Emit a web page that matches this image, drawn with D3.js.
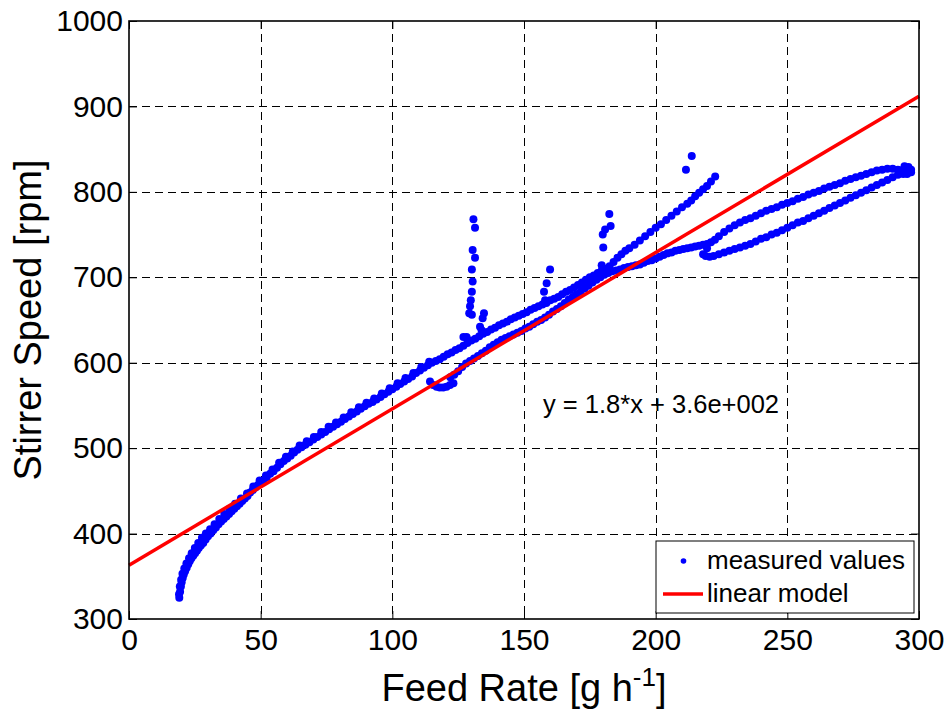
<!DOCTYPE html>
<html>
<head>
    <meta charset="UTF-8">
    <title>Stirrer Speed vs Feed Rate</title>
    <script src="https://d3js.org/d3.v7.min.js"></script>
    <style>
        body { margin: 0; background: #ffffff; }
        text { font-family: Arial, "Liberation Sans", Helvetica, sans-serif; fill: #000000; }
    </style>
</head>
<body>
<svg width="948" height="711" id="mainsvg" style="background-color: #ffffff;"></svg>
<script>
    const rampX = [19.1,19.4,19.7,20.0,20.4,20.8,21.3,21.9,22.5,23.1,23.7,24.4,25.1,25.8,26.5,27.3,28.2,29.1,30.0,31.0,
        32.0,33.0,34.0,35.0,36.0,37.0,38.0,39.0,40.0,41.0,42.0,43.0,44.0,45.0,46.0,47.0,48.0,49.0,50.0,51.0,
        52.3,53.6,54.9,56.2,57.5,58.8,60.1,61.4,62.7,64.0,65.5,67.0,68.5,70.0,71.5,73.0,74.5,76.0,77.5,79.0,
        80.5,82.0,83.5,85.0,86.5,88.0,89.5,91.0,92.5,94.0,95.5,97.0,98.5,100.0,101.5,103.0,104.5,106.0,107.5,109.0,
        110.5,112.0,113.5,115.0,116.5,118.0,119.5,121.0,122.5,124.0,125.5,127.0,128.5,130.0,131.5,133.0,134.5,136.0,137.5,139.0,
        140.5,142.0,143.5,145.0,146.5,148.0,149.5,151.0,152.5,154.0,155.5,157.0,158.5,160.0,161.5,163.0,164.5,166.0,167.5,169.0,
        170.5,172.0,173.5,175.0,176.5,178.0,179.5,181.0,182.5];
    const rampY = [325,332,338,343,348,352,356,360,364,368,371,374,377,380,383,386,389,393,397,400,
        404,407,411,414,417,420,423,426,429,432,435,438,441,444,448,451,454,457,459,462,
        466,470,473,477,481,485,488,491,495,498,501,504,507,510,513,516,519,522,525,528,
        531,534,537,540,543,546,549,552,554,557,560,563,566,569,572,575,578,581,584,588,
        591,594,597,600,602,604,607,610,612,615,617,620,623,626,628,631,634,636,639,641,
        644,646,648,651,653,655,657,659,662,664,666,668,670,673,675,677,680,683,685,688,
        691,694,697,700,702,705,708,710,713];

    // second pass along the ramp (upper edge of the band)
    const ramp2X = [19.0,19.3,19.8,20.3,21.0,21.8,22.8,23.8,25.0,26.3,27.7,29.2,30.8,32.5,34.3,36.2,38.2,40.3,42.5,44.8,
        47.2,49.6,52.0,54.5,57.0,59.6,62.2,64.8,67.5,70.2,73.0,75.8,78.6,81.5,84.4,87.3,90.2,93.1,96.0,99.0,
        102.0,105.0,108.0,111.0,114.0];
    const ramp2Y = [329,338,346,353,359,365,371,377,383,389,395,400,405,411,417,423,429,435,441,447,
        455,462,468,475,483,490,496,503,508,513,519,525,530,536,542,548,553,558,564,570,
        576,582,588,595,601];

    const steepX = [184.0,185.5,187.0,188.5,190.0,192.0,194.0,196.0,198.0,200.0,202.0,204.0,206.0,208.0,210.0,212.0,213.5,215.0,216.5,218.0,219.5,221.0,222.6];
    const steepY = [718,723,727,731,734,738,743,748,753,758,762,767,772,777,782,786,790,795,799,803,807,812,818];

    const lowerX = [114.3,115.5,116.8,118.0,119.3,120.6,121.9,123.2,122.0,123.5,125.0,126.5,128.0,129.5,131.0,132.5,134.0,135.5,137.0,138.5,
        140.0,141.5,143.0,144.5,146.0,147.5,149.0,150.5,152.0,153.5,155.0,156.5,158.0,159.5,161.0,162.5,164.0,165.5,167.0,168.5,
        170.0,171.5,173.0,174.5,176.0,177.5,179.0,180.5,182.0,183.5,185.0,186.5,188.0,189.5,191.0,192.5,194.0,195.5,197.0,198.5,
        200.0,201.5,203.0,204.5,206.0,207.5,209.0,210.5,212.0,213.5,215.0,216.5,218.0,219.5,221.0,222.5,224.0];
    const lowerY = [578,574,572,571,571,572,574,576,583,586,590,595,599,602,605,608,611,614,618,621,
        624,627,629,631,633,635,637,640,642,645,648,650,653,656,660,663,666,670,674,677,
        680,683,687,690,694,697,700,703,705,707,708,709,711,712,713,714,715,717,719,720,
        722,724,726,728,729,731,732,733,734,735,736,737,738,739,741,744,748];

    const loopOutX = [226,228,230,232,234,236,238,240,242,244,246,248,250,252,254,256,258,260,262,264,
        266,268,270,272,274,276,278,280,282,284,286,288,290,292,294,295.5,297,296,294.5];
    const loopOutY = [753,757,761,764,767,769,772,775,778,780,782,785,787,789,792,794,797,799,801,804,
        806,808,810,813,815,817,819,821,823,825,826,827,827,826,826,825,826,829,830];

    const loopBackX = [297,295.5,294,292,290,288,286,284,282,280,278,276,274,272,270,268,266,264,262,260,
        258,256,254,252,250,248,246,244,242,240,238,236,234,232,230,228,226,224,222,220.5,219,218,219.5];
    const loopBackY = [823,821,821,820,817,814,811,808,805,802,799,796,793,790,787,784,781,778,775,772,
        769,766,764,761,758,755,752,750,747,745,742,739,737,735,733,731,729,727,725,724,725,727,734];

    const spikeX = [127.0,128.2,129.2,129.5,129.8,130.2,130.5,130.2,131.4,130.5,131.4,130.8,130.2,134.8,134.3,133.3,133.9,
        158.0,157.6,158.6,159.9,179.5,180.1,179.9,180.8,182.9,182.4,211.5,213.7];
    const spikeY = [630,630,658,666,673,683,695,709,723,732,758,768,656,658,652,642,638,
        673,683,693,709,714,735,750,756,760,774,826,842];

    // linear model end points
    const fitX = [0, 300];
    const fitY = [363, 912];

    const xTicks = [0, 50, 100, 150, 200, 250, 300];
    const yTicks = [300, 400, 500, 600, 700, 800, 900, 1000];
    const legendLabels = ['measured values', 'linear model'];
    const equationText = 'y = 1.8*x + 3.6e+002';

    const svg = d3.select('#mainsvg');
    const width = +svg.attr('width');
    const height = +svg.attr('height');
    const margin = {top: 21, right: 29, bottom: 92, left: 129};
    const innerWidth = width - margin.left - margin.right;
    const innerHeight = height - margin.top - margin.bottom;

    const xScale = d3.scaleLinear().domain([0, 300]).range([0, innerWidth]);
    const yScale = d3.scaleLinear().domain([300, 1000]).range([innerHeight, 0]);

    const g = svg.append('g')
        .attr('transform', `translate(${margin.left}, ${margin.top})`)
        .attr('id', 'maingroup');

    // dashed grid
    g.append('g').attr('class', 'grid')
        .selectAll('line').data(xTicks.slice(1, -1)).join('line')
        .attr('x1', d => Math.round(xScale(d)) + 0.5).attr('x2', d => Math.round(xScale(d)) + 0.5)
        .attr('y1', 0).attr('y2', innerHeight);
    g.append('g').attr('class', 'grid')
        .selectAll('line').data(yTicks.slice(1, -1)).join('line')
        .attr('y1', d => Math.round(yScale(d)) + 0.5).attr('y2', d => Math.round(yScale(d)) + 0.5)
        .attr('x1', 0).attr('x2', innerWidth);
    g.selectAll('.grid line')
        .attr('stroke', '#000000')
        .attr('stroke-width', 1)
        .attr('stroke-dasharray', '8,5');

    // axes, ticks pointing inwards
    const xAxis = d3.axisBottom(xScale).tickValues(xTicks).tickFormat(d3.format('d'))
        .tickSizeInner(-8).tickSizeOuter(0).tickPadding(10);
    const yAxis = d3.axisLeft(yScale).tickValues(yTicks).tickFormat(d3.format('d'))
        .tickSizeInner(-8).tickSizeOuter(0).tickPadding(6);
    const xAxisTop = d3.axisTop(xScale).tickValues(xTicks).tickSizeInner(-8).tickSizeOuter(0);
    const yAxisRight = d3.axisRight(yScale).tickValues(yTicks).tickSizeInner(-8).tickSizeOuter(0);

    const xAxisGroup = g.append('g').attr('transform', `translate(0, ${innerHeight})`).call(xAxis);
    const yAxisGroup = g.append('g').call(yAxis);
    const xTopGroup = g.append('g').call(xAxisTop);
    const yRightGroup = g.append('g').attr('transform', `translate(${innerWidth}, 0)`).call(yAxisRight);
    xTopGroup.selectAll('.tick text').remove();
    yRightGroup.selectAll('.tick text').remove();
    [xAxisGroup, yAxisGroup, xTopGroup, yRightGroup].forEach(ax => {
        ax.selectAll('.domain').remove();
        ax.selectAll('.tick line').attr('stroke', '#000000');
        ax.selectAll('.tick text')
            .attr('font-size', 30)
            .attr('font-family', 'Arial, "Liberation Sans", sans-serif')
            .attr('fill', '#000000');
    });

    // measured values
    const measured = [].concat(
        d3.zip(rampX, rampY), d3.zip(ramp2X, ramp2Y), d3.zip(lowerX, lowerY), d3.zip(steepX, steepY),
        d3.zip(loopOutX, loopOutY), d3.zip(loopBackX, loopBackY), d3.zip(spikeX, spikeY)
    );
    g.append('g').selectAll('circle')
        .data(measured)
        .join('circle')
        .attr('cx', d => xScale(d[0]))
        .attr('cy', d => yScale(d[1]))
        .attr('r', 4)
        .attr('fill', '#0000ff');

    // linear model
    const line = d3.line().x(d => xScale(d[0])).y(d => yScale(d[1]));
    g.append('path')
        .datum(d3.zip(fitX, fitY))
        .attr('d', line)
        .attr('fill', 'none')
        .attr('stroke', '#ff0000')
        .attr('stroke-width', 3.5);

    // axes box
    g.append('rect')
        .attr('x', 0).attr('y', 0)
        .attr('width', innerWidth).attr('height', innerHeight)
        .attr('fill', 'none')
        .attr('stroke', '#000000')
        .attr('stroke-width', 1.6);

    // fit equation
    g.append('text')
        .attr('x', xScale(157.2))
        .attr('y', yScale(541))
        .attr('font-size', 25.5)
        .text(equationText);

    // axis labels
    const xLabel = svg.append('text')
        .attr('x', margin.left + innerWidth / 2)
        .attr('y', 701)
        .attr('text-anchor', 'middle')
        .attr('font-size', 38);
    xLabel.append('tspan').text('Feed Rate [g h');
    xLabel.append('tspan').attr('dy', -15).attr('font-size', 26).text('-1');
    xLabel.append('tspan').attr('dy', 15).text(']');

    svg.append('text')
        .attr('transform', `translate(41, ${margin.top + innerHeight / 2}) rotate(-90)`)
        .attr('text-anchor', 'middle')
        .attr('font-size', 38)
        .text('Stirrer Speed [rpm]');

    // legend
    const legendW = 258, legendH = 72;
    const legend = g.append('g')
        .attr('transform', `translate(${innerWidth - 5 - legendW}, ${innerHeight - 6 - legendH})`);
    legend.append('rect')
        .attr('width', legendW).attr('height', legendH)
        .attr('fill', '#ffffff')
        .attr('stroke', '#000000')
        .attr('stroke-width', 1);
    legend.append('circle')
        .attr('cx', 27.5).attr('cy', 20)
        .attr('r', 2.8)
        .attr('fill', '#0000ff');
    legend.append('line')
        .attr('x1', 7).attr('x2', 47)
        .attr('y1', 53).attr('y2', 53)
        .attr('stroke', '#ff0000')
        .attr('stroke-width', 3.5);
    legend.selectAll('.legend_text')
        .data(legendLabels)
        .join('text')
        .attr('class', 'legend_text')
        .attr('x', 51)
        .attr('y', (d, i) => 28 + i * 33)
        .attr('font-size', 26)
        .text(d => d);
</script>
</body>
</html>
